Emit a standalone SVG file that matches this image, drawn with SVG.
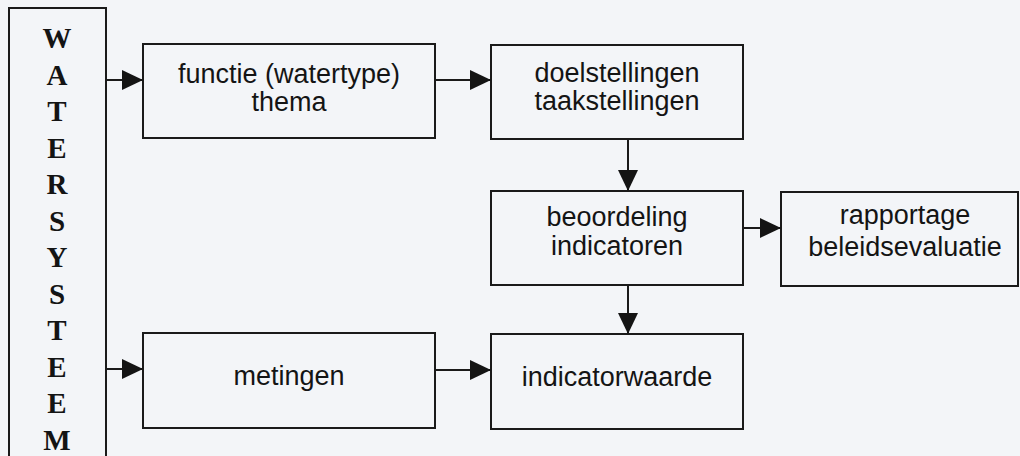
<svg xmlns="http://www.w3.org/2000/svg" width="1020" height="456" viewBox="0 0 1020 456">
<style>
.box{fill:none;stroke:#1a1a1a;stroke-width:2}
.lbl{font-family:"Liberation Sans",Arial,sans-serif;font-size:27px;fill:#141414;text-anchor:middle}
.ws{font-family:"Liberation Serif","Times New Roman",serif;font-size:29px;font-weight:bold;fill:#141414;text-anchor:middle}
.conn{stroke:#1a1a1a;stroke-width:2;fill:none;marker-end:url(#ah)}
</style>
<defs>
<marker id="ah" markerUnits="userSpaceOnUse" markerWidth="21" markerHeight="20" refX="21" refY="10" orient="auto" viewBox="0 0 21 20">
<path d="M0,0 L21,10 L0,20 z" fill="#141414"/>
</marker>
</defs>
<rect width="1020" height="456" fill="#f3f5f8"/>
<g id="watersysteem">
<rect class="box" x="9" y="8" width="97" height="460"/>
<text class="ws" x="57" y="48">W</text>
<text class="ws" x="57" y="84.5">A</text>
<text class="ws" x="57" y="121">T</text>
<text class="ws" x="57" y="157.5">E</text>
<text class="ws" x="57" y="194">R</text>
<text class="ws" x="57" y="230.5">S</text>
<text class="ws" x="57" y="267">Y</text>
<text class="ws" x="57" y="303.5">S</text>
<text class="ws" x="57" y="340">T</text>
<text class="ws" x="57" y="376.5">E</text>
<text class="ws" x="57" y="413">E</text>
<text class="ws" x="57" y="449.5">M</text>
</g>
<g id="functie">
<rect class="box" x="143" y="44" width="292" height="94"/>
<text class="lbl" x="289" y="83">functie (watertype)</text>
<text class="lbl" x="289" y="111">thema</text>
</g>
<g id="doelstellingen">
<rect class="box" x="491" y="45" width="252" height="94"/>
<text class="lbl" x="617" y="82">doelstellingen</text>
<text class="lbl" x="617" y="110">taakstellingen</text>
</g>
<g id="beoordeling">
<rect class="box" x="491" y="191" width="252" height="94"/>
<text class="lbl" x="617" y="226">beoordeling</text>
<text class="lbl" x="617" y="255">indicatoren</text>
</g>
<g id="rapportage">
<rect class="box" x="781" y="192" width="237" height="94"/>
<text class="lbl" x="905" y="224">rapportage</text>
<text class="lbl" x="905" y="256">beleidsevaluatie</text>
</g>
<g id="metingen">
<rect class="box" x="143" y="333" width="292" height="95"/>
<text class="lbl" x="289" y="385">metingen</text>
</g>
<g id="indicatorwaarde">
<rect class="box" x="491" y="334" width="252" height="95"/>
<text class="lbl" x="617" y="386">indicatorwaarde</text>
</g>
<g id="connectors">
<line class="conn" x1="106" y1="80" x2="143" y2="80"/>
<line class="conn" x1="435" y1="80" x2="491" y2="80"/>
<line class="conn" x1="628" y1="139" x2="628" y2="191"/>
<line class="conn" x1="743" y1="228" x2="781" y2="228"/>
<line class="conn" x1="628" y1="285" x2="628" y2="334"/>
<line class="conn" x1="106" y1="369" x2="143" y2="369"/>
<line class="conn" x1="435" y1="370" x2="491" y2="370"/>
</g>
</svg>
